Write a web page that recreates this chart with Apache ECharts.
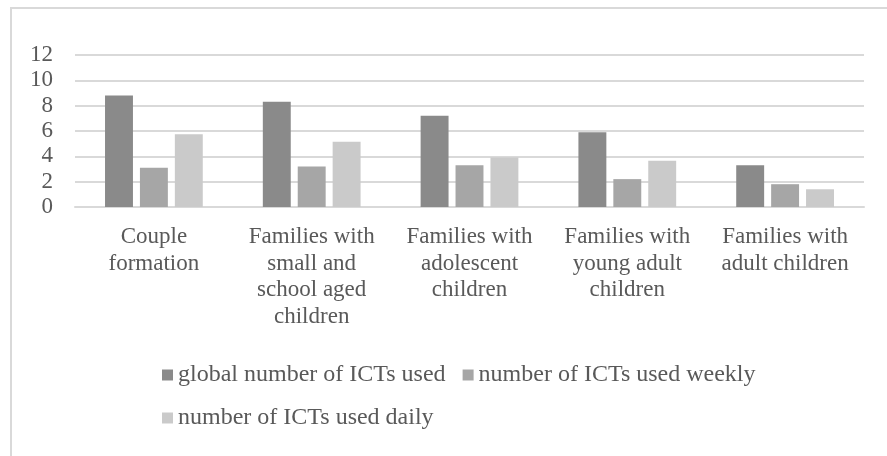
<!DOCTYPE html>
<html>
<head>
	<meta charset="utf-8">
	<title>ICTs by family stage</title>
	<script src="https://cdn.jsdelivr.net/npm/echarts@6/dist/echarts.min.js"></script>
	<style>
		html, body { margin: 0; padding: 0; background: #fff; }
	</style>
</head>
<body>
	<div id="main" style="width: 887px;height:456px;"></div>
	<script type="text/javascript">
		// data
		var categories = [
			'Couple\nformation',
			'Families with\nsmall and\nschool aged\nchildren',
			'Families with\nadolescent\nchildren',
			'Families with\nyoung adult\nchildren',
			'Families with\nadult children'
		];
		var seriesNames = ['global number of ICTs used', 'number of ICTs used weekly', 'number of ICTs used daily'];
		var globalUsed = [8.8, 8.3, 7.2, 5.9, 3.3];
		var weeklyUsed = [3.1, 3.2, 3.3, 2.2, 1.8];
		var dailyUsed = [5.75, 5.15, 3.9, 3.65, 1.4];
		var yTicks = [0, 2, 4, 6, 8, 10, 12];

		var font = 'Liberation Serif';
		var colors = ['#8a8a8a', '#a6a6a6', '#cacaca'];

		var myChart = echarts.init(document.getElementById('main'));

		function bar(name, data) {
			return {
				name: name,
				type: 'bar',
				data: data,
				barWidth: '17.7%',
				barGap: '25%',
				animation: false
			};
		}

		var legendText = { fontFamily: font, fontSize: 24, color: '#595959' };

		var option = {
			color: colors,
			textStyle: { fontFamily: font },
			graphic: [{
				type: 'rect',
				shape: { x: 11, y: 8, width: 900, height: 500 },
				style: { fill: 'none', stroke: '#d9d9d9', lineWidth: 2 },
				silent: true
			}],
			grid: { left: 75, right: 23, top: 55, bottom: 249 },
			legend: [{
				data: [seriesNames[0], seriesNames[1]],
				left: 162,
				top: 363,
				padding: 0,
				itemWidth: 11,
				itemHeight: 11,
				itemGap: 17,
				icon: 'rect',
				textStyle: legendText
			}, {
				data: [seriesNames[2]],
				left: 162,
				top: 406,
				padding: 0,
				itemWidth: 11,
				itemHeight: 11,
				icon: 'rect',
				textStyle: legendText
			}],
			xAxis: {
				type: 'category',
				data: categories,
				axisTick: { show: false },
				axisLine: { lineStyle: { color: '#d9d9d9', width: 2 } },
				axisLabel: {
					interval: 0,
					margin: 17,
					fontFamily: font,
					fontSize: 23,
					lineHeight: 26.5,
					color: '#595959'
				}
			},
			yAxis: {
				type: 'value',
				min: yTicks[0],
				max: yTicks[yTicks.length - 1],
				interval: 2,
				axisLine: { show: false },
				axisTick: { show: false },
				splitLine: { lineStyle: { color: '#d9d9d9', width: 2 } },
				axisLabel: {
					margin: 22,
					fontFamily: font,
					fontSize: 23,
					color: '#595959'
				}
			},
			series: [
				bar(seriesNames[0], globalUsed),
				bar(seriesNames[1], weeklyUsed),
				bar(seriesNames[2], dailyUsed)
			]
		};

		myChart.setOption(option);
	</script>
</body>
</html>
